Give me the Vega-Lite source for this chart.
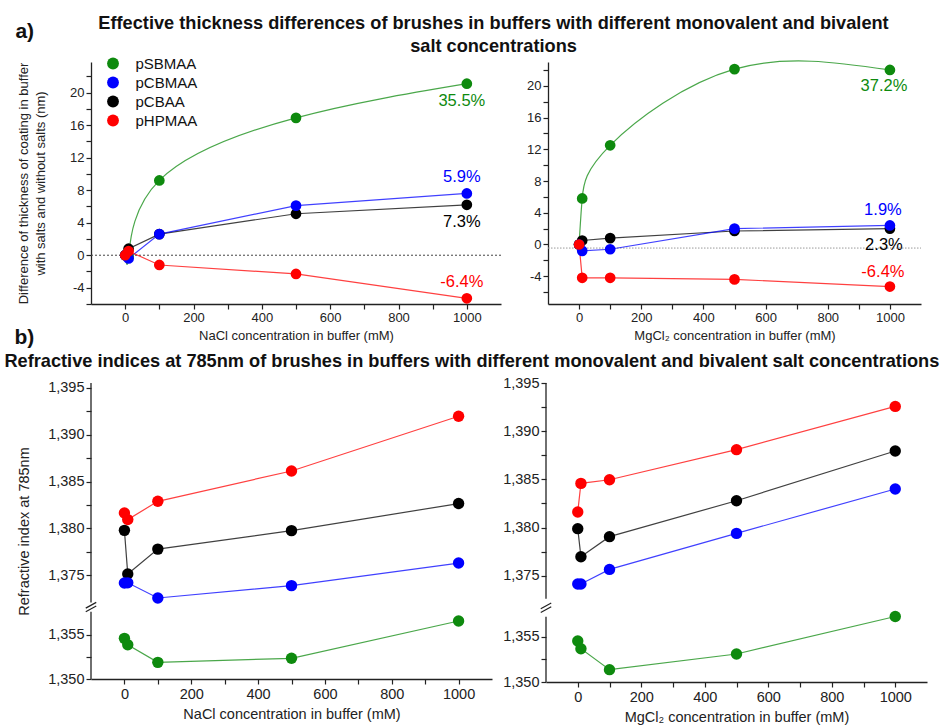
{
  "$schema": "https://vega.github.io/schema/vega-lite/v6.json",
  "background": "white",
  "padding": {"left": 4, "top": 13, "right": 4, "bottom": 4},
  "title": {"text": "a)", "anchor": "start", "fontSize": 21, "offset": -28, "dx": 11, "color": "#111"},
  "config": {
    "font": "Liberation Sans",
    "view": {"stroke": null},
    "title": {"font": "Liberation Sans", "fontWeight": "bold", "color": "#111"},
    "axis": {
      "grid": false,
      "domainColor": "#222",
      "domainWidth": 1.3,
      "tickColor": "#222",
      "tickWidth": 1.2,
      "tickSize": 5,
      "labelColor": "#222",
      "titleColor": "#222",
      "labelFont": "Liberation Sans",
      "titleFont": "Liberation Sans",
      "titleFontWeight": "normal",
      "labelOverlap": false,
      "labelFlush": false
    }
  },
  "datasets": {
    "thick": [
      {"salt": "NaCl", "series": "pSBMAA", "conc": 0, "dt": 0},
      {"salt": "NaCl", "series": "pSBMAA", "conc": 10, "dt": -0.2},
      {"salt": "NaCl", "series": "pSBMAA", "conc": 100, "dt": 9.2},
      {"salt": "NaCl", "series": "pSBMAA", "conc": 500, "dt": 16.9},
      {"salt": "NaCl", "series": "pSBMAA", "conc": 1000, "dt": 21.1, "pct": "35.5%"},
      {"salt": "NaCl", "series": "pCBAA", "conc": 0, "dt": 0},
      {"salt": "NaCl", "series": "pCBAA", "conc": 10, "dt": 0.8},
      {"salt": "NaCl", "series": "pCBAA", "conc": 100, "dt": 2.6},
      {"salt": "NaCl", "series": "pCBAA", "conc": 500, "dt": 5.1},
      {"salt": "NaCl", "series": "pCBAA", "conc": 1000, "dt": 6.2, "pct": "7.3%"},
      {"salt": "NaCl", "series": "pCBMAA", "conc": 0, "dt": 0},
      {"salt": "NaCl", "series": "pCBMAA", "conc": 10, "dt": -0.4},
      {"salt": "NaCl", "series": "pCBMAA", "conc": 100, "dt": 2.6},
      {"salt": "NaCl", "series": "pCBMAA", "conc": 500, "dt": 6.1},
      {"salt": "NaCl", "series": "pCBMAA", "conc": 1000, "dt": 7.6, "pct": "5.9%"},
      {"salt": "NaCl", "series": "pHPMAA", "conc": 0, "dt": 0},
      {"salt": "NaCl", "series": "pHPMAA", "conc": 10, "dt": 0.5},
      {"salt": "NaCl", "series": "pHPMAA", "conc": 100, "dt": -1.2},
      {"salt": "NaCl", "series": "pHPMAA", "conc": 500, "dt": -2.3},
      {"salt": "NaCl", "series": "pHPMAA", "conc": 1000, "dt": -5.3, "pct": "-6.4%"},
      {"salt": "MgCl2", "series": "pSBMAA", "conc": 0, "dt": 0},
      {"salt": "MgCl2", "series": "pSBMAA", "conc": 10, "dt": 5.8},
      {"salt": "MgCl2", "series": "pSBMAA", "conc": 100, "dt": 12.5},
      {"salt": "MgCl2", "series": "pSBMAA", "conc": 500, "dt": 22.1},
      {"salt": "MgCl2", "series": "pSBMAA", "conc": 1000, "dt": 22.0, "pct": "37.2%"},
      {"salt": "MgCl2", "series": "pCBAA", "conc": 0, "dt": 0},
      {"salt": "MgCl2", "series": "pCBAA", "conc": 10, "dt": 0.5},
      {"salt": "MgCl2", "series": "pCBAA", "conc": 100, "dt": 0.8},
      {"salt": "MgCl2", "series": "pCBAA", "conc": 500, "dt": 1.7},
      {"salt": "MgCl2", "series": "pCBAA", "conc": 1000, "dt": 2.0, "pct": "2.3%"},
      {"salt": "MgCl2", "series": "pCBMAA", "conc": 0, "dt": 0},
      {"salt": "MgCl2", "series": "pCBMAA", "conc": 10, "dt": -0.8},
      {"salt": "MgCl2", "series": "pCBMAA", "conc": 100, "dt": -0.6},
      {"salt": "MgCl2", "series": "pCBMAA", "conc": 500, "dt": 2.0},
      {"salt": "MgCl2", "series": "pCBMAA", "conc": 1000, "dt": 2.4, "pct": "1.9%"},
      {"salt": "MgCl2", "series": "pHPMAA", "conc": 0, "dt": 0},
      {"salt": "MgCl2", "series": "pHPMAA", "conc": 10, "dt": -4.2},
      {"salt": "MgCl2", "series": "pHPMAA", "conc": 100, "dt": -4.2},
      {"salt": "MgCl2", "series": "pHPMAA", "conc": 500, "dt": -4.4},
      {"salt": "MgCl2", "series": "pHPMAA", "conc": 1000, "dt": -5.3, "pct": "-6.4%"}
    ],
    "ri": [
      {"salt": "NaCl", "series": "pSBMAA", "conc": 0, "n": 1.35459},
      {"salt": "NaCl", "series": "pSBMAA", "conc": 10, "n": 1.35387},
      {"salt": "NaCl", "series": "pSBMAA", "conc": 100, "n": 1.35188},
      {"salt": "NaCl", "series": "pSBMAA", "conc": 500, "n": 1.35234},
      {"salt": "NaCl", "series": "pSBMAA", "conc": 1000, "n": 1.35655},
      {"salt": "NaCl", "series": "pCBAA", "conc": 0, "n": 1.3798},
      {"salt": "NaCl", "series": "pCBAA", "conc": 10, "n": 1.37514},
      {"salt": "NaCl", "series": "pCBAA", "conc": 100, "n": 1.3778},
      {"salt": "NaCl", "series": "pCBAA", "conc": 500, "n": 1.37977},
      {"salt": "NaCl", "series": "pCBAA", "conc": 1000, "n": 1.38266},
      {"salt": "NaCl", "series": "pCBMAA", "conc": 0, "n": 1.37418},
      {"salt": "NaCl", "series": "pCBMAA", "conc": 10, "n": 1.3742},
      {"salt": "NaCl", "series": "pCBMAA", "conc": 100, "n": 1.37258},
      {"salt": "NaCl", "series": "pCBMAA", "conc": 500, "n": 1.3739},
      {"salt": "NaCl", "series": "pCBMAA", "conc": 1000, "n": 1.37631},
      {"salt": "NaCl", "series": "pHPMAA", "conc": 0, "n": 1.38165},
      {"salt": "NaCl", "series": "pHPMAA", "conc": 10, "n": 1.38095},
      {"salt": "NaCl", "series": "pHPMAA", "conc": 100, "n": 1.3829},
      {"salt": "NaCl", "series": "pHPMAA", "conc": 500, "n": 1.38614},
      {"salt": "NaCl", "series": "pHPMAA", "conc": 1000, "n": 1.39198},
      {"salt": "MgCl2", "series": "pSBMAA", "conc": 0, "n": 1.35452},
      {"salt": "MgCl2", "series": "pSBMAA", "conc": 10, "n": 1.35367},
      {"salt": "MgCl2", "series": "pSBMAA", "conc": 100, "n": 1.35136},
      {"salt": "MgCl2", "series": "pSBMAA", "conc": 500, "n": 1.35309},
      {"salt": "MgCl2", "series": "pSBMAA", "conc": 1000, "n": 1.35739},
      {"salt": "MgCl2", "series": "pCBAA", "conc": 0, "n": 1.37988},
      {"salt": "MgCl2", "series": "pCBAA", "conc": 10, "n": 1.37697},
      {"salt": "MgCl2", "series": "pCBAA", "conc": 100, "n": 1.37905},
      {"salt": "MgCl2", "series": "pCBAA", "conc": 500, "n": 1.38278},
      {"salt": "MgCl2", "series": "pCBAA", "conc": 1000, "n": 1.38794},
      {"salt": "MgCl2", "series": "pCBMAA", "conc": 0, "n": 1.37414},
      {"salt": "MgCl2", "series": "pCBMAA", "conc": 10, "n": 1.37414},
      {"salt": "MgCl2", "series": "pCBMAA", "conc": 100, "n": 1.37565},
      {"salt": "MgCl2", "series": "pCBMAA", "conc": 500, "n": 1.37939},
      {"salt": "MgCl2", "series": "pCBMAA", "conc": 1000, "n": 1.384},
      {"salt": "MgCl2", "series": "pHPMAA", "conc": 0, "n": 1.38161},
      {"salt": "MgCl2", "series": "pHPMAA", "conc": 10, "n": 1.38458},
      {"salt": "MgCl2", "series": "pHPMAA", "conc": 100, "n": 1.38496},
      {"salt": "MgCl2", "series": "pHPMAA", "conc": 500, "n": 1.38808},
      {"salt": "MgCl2", "series": "pHPMAA", "conc": 1000, "n": 1.39257}
    ]
  },
  "resolve": {"scale": {"x": "independent", "y": "independent", "color": "independent", "stroke": "independent", "fill": "independent"}},
  "spacing": 3,
  "vconcat": [
    {
      "title": {"text": "b)", "orient": "bottom", "anchor": "start", "fontSize": 21, "offset": -15, "dx": -3, "color": "#111"},
      "resolve": {"scale": {"x": "independent", "y": "independent", "color": "independent", "stroke": "independent", "fill": "independent"}},
      "vconcat": [
        {
          "title": {
            "text": ["Effective thickness differences of brushes in buffers with different monovalent and bivalent", "salt concentrations\u00a0\u00a0\u00a0\u00a0\u00a0\u00a0\u00a0\u00a0\u00a0\u00a0\u00a0"],
            "fontSize": 18.2, "lineHeight": 23, "offset": 0, "anchor": "middle", "dx": 24
          },
          "spacing": 24,
          "resolve": {"scale": {"x": "independent", "y": "independent", "color": "independent", "stroke": "independent", "fill": "independent"}},
          "hconcat": [
            {
              "width": 410,
              "height": 242,
              "encoding": {
                "x": {"field": "conc", "type": "quantitative", "scale": {"domain": [-100, 1100], "nice": false, "zero": false},
                  "axis": {"title": "NaCl concentration in buffer (mM)", "values": [0, 100, 200, 300, 400, 500, 600, 700, 800, 900, 1000],
                    "labelExpr": "datum.value % 200 === 0 ? '' + datum.value : ''",
                    "labelFontSize": 13, "titleFontSize": 13, "labelPadding": 2, "titlePadding": 5}},
                "y": {"field": "dt", "type": "quantitative", "scale": {"domain": [-6, 23.77], "nice": false, "zero": false},
                  "axis": {"title": ["Difference of thickness of coating in buffer", "with salts and without salts (nm)"],
                    "values": [-6, -4, -2, 0, 2, 4, 6, 8, 10, 12, 14, 16, 18, 20, 22],
                    "labelExpr": "datum.value % 4 === 0 ? '' + datum.value : ''",
                    "labelFontSize": 13, "titleFontSize": 13, "titleLineHeight": 17, "labelPadding": 2, "titlePadding": 22}}
              },
              "layer": [
                {
                  "data": {"values": [{"conc": -100, "conc2": 1100, "dt": 0}]},
                  "mark": {"type": "rule", "strokeDash": [2, 2], "color": "#444", "strokeWidth": 1},
                  "encoding": {"x2": {"field": "conc2"}}
                },
                {
                  "data": {"name": "thick"},
                  "transform": [{"filter": "datum.salt === 'NaCl' && datum.series === 'pSBMAA'"}],
                  "mark": {"type": "line", "interpolate": "natural", "strokeWidth": 1.2, "opacity": 0.75},
                  "encoding": {
                    "stroke": {"field": "series", "type": "nominal", "scale": {"domain": ["pCBAA", "pCBMAA", "pHPMAA", "pSBMAA"], "range": ["#000000", "#0000ff", "#ff0000", "#0e8a0e"]}, "legend": null}
                  }
                },
                {
                  "data": {"name": "thick"},
                  "transform": [{"filter": "datum.salt === 'NaCl' && datum.series !== 'pSBMAA'"}],
                  "mark": {"type": "line", "strokeWidth": 1.2, "opacity": 0.75},
                  "encoding": {
                    "stroke": {"field": "series", "type": "nominal", "scale": {"domain": ["pCBAA", "pCBMAA", "pHPMAA", "pSBMAA"], "range": ["#000000", "#0000ff", "#ff0000", "#0e8a0e"]}, "legend": null}
                  }
                },
                {
                  "data": {"name": "thick"},
                  "transform": [{"filter": "datum.salt === 'NaCl'"}],
                  "mark": {"type": "point", "filled": true, "size": 115, "opacity": 1},
                  "encoding": {
                    "color": {"field": "series", "type": "nominal", "scale": {"domain": ["pSBMAA", "pCBMAA", "pCBAA", "pHPMAA"], "range": ["#0e8a0e", "#0000ff", "#000000", "#ff0000"]},
                      "legend": {"title": null, "orient": "none", "legendX": 14.5, "legendY": -6, "symbolType": "circle", "symbolSize": 140,
                        "symbolStrokeWidth": 0, "labelFontSize": 15, "labelColor": "#111", "rowPadding": 3, "labelOffset": 15, "padding": 0}}
                  }
                },
                {
                  "data": {"name": "thick"},
                  "transform": [{"filter": "datum.salt === 'NaCl' && datum.conc === 1000 && (datum.series === 'pCBMAA' || datum.series === 'pHPMAA')"}],
                  "mark": {"type": "text", "fontSize": 16.5, "dy": -16, "dx": -5, "baseline": "middle", "align": "center"},
                  "encoding": {
                    "text": {"field": "pct"},
                    "fill": {"field": "series", "type": "nominal", "scale": {"domain": ["pCBAA", "pCBMAA", "pHPMAA", "pSBMAA"], "range": ["#000000", "#0000ff", "#ff0000", "#0e8a0e"]}, "legend": null}
                  }
                },
                {
                  "data": {"name": "thick"},
                  "transform": [{"filter": "datum.salt === 'NaCl' && datum.conc === 1000 && (datum.series === 'pSBMAA' || datum.series === 'pCBAA')"}],
                  "mark": {"type": "text", "fontSize": 16.5, "dy": 17, "dx": -5, "baseline": "middle", "align": "center"},
                  "encoding": {
                    "text": {"field": "pct"},
                    "fill": {"field": "series", "type": "nominal", "scale": {"domain": ["pCBAA", "pCBMAA", "pHPMAA", "pSBMAA"], "range": ["#000000", "#0000ff", "#ff0000", "#0e8a0e"]}, "legend": null}
                  }
                }
              ]
            },
            {
              "width": 373,
              "height": 242,
              "encoding": {
                "x": {"field": "conc", "type": "quantitative", "scale": {"domain": [-100, 1100], "nice": false, "zero": false},
                  "axis": {"title": "MgCl₂ concentration in buffer (mM)", "values": [0, 100, 200, 300, 400, 500, 600, 700, 800, 900, 1000],
                    "labelExpr": "datum.value % 200 === 0 ? '' + datum.value : ''",
                    "labelFontSize": 13, "titleFontSize": 13, "labelPadding": 2, "titlePadding": 5}},
                "y": {"field": "dt", "type": "quantitative", "scale": {"domain": [-7.5, 23], "nice": false, "zero": false},
                  "axis": {"title": null,
                    "values": [-6, -4, -2, 0, 2, 4, 6, 8, 10, 12, 14, 16, 18, 20, 22],
                    "labelExpr": "datum.value % 4 === 0 ? '' + datum.value : ''",
                    "labelFontSize": 13, "labelPadding": 2}}
              },
              "layer": [
                {
                  "data": {"values": [{"conc": -100, "conc2": 1100, "dt": -0.45}]},
                  "mark": {"type": "rule", "strokeDash": [1.5, 1.5], "color": "#999", "strokeWidth": 1},
                  "encoding": {"x2": {"field": "conc2"}}
                },
                {
                  "data": {"name": "thick"},
                  "transform": [{"filter": "datum.salt === 'MgCl2' && datum.series === 'pSBMAA'"}],
                  "mark": {"type": "line", "interpolate": "natural", "strokeWidth": 1.2, "opacity": 0.75},
                  "encoding": {
                    "stroke": {"field": "series", "type": "nominal", "scale": {"domain": ["pCBAA", "pCBMAA", "pHPMAA", "pSBMAA"], "range": ["#000000", "#0000ff", "#ff0000", "#0e8a0e"]}, "legend": null}
                  }
                },
                {
                  "data": {"name": "thick"},
                  "transform": [{"filter": "datum.salt === 'MgCl2' && datum.series !== 'pSBMAA'"}],
                  "mark": {"type": "line", "strokeWidth": 1.2, "opacity": 0.75},
                  "encoding": {
                    "stroke": {"field": "series", "type": "nominal", "scale": {"domain": ["pCBAA", "pCBMAA", "pHPMAA", "pSBMAA"], "range": ["#000000", "#0000ff", "#ff0000", "#0e8a0e"]}, "legend": null}
                  }
                },
                {
                  "data": {"name": "thick"},
                  "transform": [{"filter": "datum.salt === 'MgCl2'"}],
                  "mark": {"type": "point", "filled": true, "size": 115, "opacity": 1},
                  "encoding": {
                    "color": {"field": "series", "type": "nominal", "scale": {"domain": ["pSBMAA", "pCBMAA", "pCBAA", "pHPMAA"], "range": ["#0e8a0e", "#0000ff", "#000000", "#ff0000"]}, "legend": null}
                  }
                },
                {
                  "data": {"name": "thick"},
                  "transform": [{"filter": "datum.salt === 'MgCl2' && datum.conc === 1000 && (datum.series === 'pCBMAA' || datum.series === 'pHPMAA')"}],
                  "mark": {"type": "text", "fontSize": 16.5, "dy": -15, "dx": -7, "baseline": "middle", "align": "center"},
                  "encoding": {
                    "text": {"field": "pct"},
                    "fill": {"field": "series", "type": "nominal", "scale": {"domain": ["pCBAA", "pCBMAA", "pHPMAA", "pSBMAA"], "range": ["#000000", "#0000ff", "#ff0000", "#0e8a0e"]}, "legend": null}
                  }
                },
                {
                  "data": {"name": "thick"},
                  "transform": [{"filter": "datum.salt === 'MgCl2' && datum.conc === 1000 && (datum.series === 'pSBMAA' || datum.series === 'pCBAA')"}],
                  "mark": {"type": "text", "fontSize": 16.5, "dy": 16, "dx": -6, "baseline": "middle", "align": "center"},
                  "encoding": {
                    "text": {"field": "pct"},
                    "fill": {"field": "series", "type": "nominal", "scale": {"domain": ["pCBAA", "pCBMAA", "pHPMAA", "pSBMAA"], "range": ["#000000", "#0000ff", "#ff0000", "#0e8a0e"]}, "legend": null}
                  }
                }
              ]
            }
          ]
        }
      ]
    },
    {
      "title": {
        "text": "Refractive indices at 785nm of brushes in buffers with different monovalent and bivalent salt concentrations",
        "fontSize": 18.2, "offset": 4, "anchor": "middle"
      },
      "spacing": 10,
      "resolve": {"scale": {"x": "independent", "y": "independent", "color": "independent", "stroke": "independent", "fill": "independent"}},
      "hconcat": [
        {
          "width": 401,
          "height": 296,
          "encoding": {
            "x": {"field": "conc", "type": "quantitative", "scale": {"domain": [-100, 1100], "nice": false, "zero": false},
              "axis": {"title": "NaCl concentration in buffer (mM)", "values": [0, 100, 200, 300, 400, 500, 600, 700, 800, 900, 1000],
                "labelExpr": "datum.value % 200 === 0 ? '' + datum.value : ''",
                "labelFontSize": 14.5, "titleFontSize": 14.5, "labelPadding": 3, "titlePadding": 7}},
            "y": {"field": "n", "type": "quantitative", "scale": {"domain": [1.35, 1.3576, 1.3721, 1.39553], "range": [296, 228.7, 219.5, 0], "nice": false, "zero": false},
              "axis": {"title": "Refractive index at 785nm", "domain": false,
                "values": [1.35, 1.3525, 1.355, 1.375, 1.3775, 1.38, 1.3825, 1.385, 1.3875, 1.39, 1.3925, 1.395],
                "labelExpr": "round(datum.value * 2000) % 10 === 0 ? replace(format(datum.value, '.3f'), '.', ',') : ''",
                "labelFontSize": 14.5, "titleFontSize": 14.5, "labelPadding": 2, "titlePadding": 16}}
          },
          "layer": [
            {
              "data": {"values": [{"conc": -100, "n": 1.35, "n2": 1.3576}, {"conc": -100, "n": 1.3721, "n2": 1.39553}]},
              "mark": {"type": "rule", "color": "#222", "strokeWidth": 1.3},
              "encoding": {"y2": {"field": "n2"}}
            },
            {
              "data": {"values": [{"conc": -100, "n": 1.36485}]},
              "mark": {"type": "point", "shape": "M-1,0.2L1,-0.9M-1,0.9L1,-0.2", "filled": false, "size": 110, "stroke": "#222", "strokeWidth": 1.2, "opacity": 1}
            },
            {
              "data": {"name": "ri"},
              "transform": [{"filter": "datum.salt === 'NaCl'"}],
              "mark": {"type": "line", "strokeWidth": 1.2, "opacity": 0.75},
              "encoding": {
                "stroke": {"field": "series", "type": "nominal", "scale": {"domain": ["pCBAA", "pCBMAA", "pHPMAA", "pSBMAA"], "range": ["#000000", "#0000ff", "#ff0000", "#0e8a0e"]}, "legend": null}
              }
            },
            {
              "data": {"name": "ri"},
              "transform": [{"filter": "datum.salt === 'NaCl'"}],
              "mark": {"type": "point", "filled": true, "size": 130, "opacity": 1},
              "encoding": {
                "color": {"field": "series", "type": "nominal", "scale": {"domain": ["pSBMAA", "pCBMAA", "pCBAA", "pHPMAA"], "range": ["#0e8a0e", "#0000ff", "#000000", "#ff0000"]}, "legend": null}
              }
            }
          ]
        },
        {
          "width": 381,
          "height": 299,
          "encoding": {
            "x": {"field": "conc", "type": "quantitative", "scale": {"domain": [-100, 1100], "nice": false, "zero": false},
              "axis": {"title": "MgCl₂ concentration in buffer (mM)", "values": [0, 100, 200, 300, 400, 500, 600, 700, 800, 900, 1000],
                "labelExpr": "datum.value % 200 === 0 ? '' + datum.value : ''",
                "labelFontSize": 14.5, "titleFontSize": 14.5, "labelPadding": 3, "titlePadding": 7}},
            "y": {"field": "n", "type": "quantitative", "scale": {"domain": [1.35, 1.3572, 1.3726, 1.395], "range": [299, 233.7, 215.8, 0], "nice": false, "zero": false},
              "axis": {"title": null, "domain": false,
                "values": [1.35, 1.3525, 1.355, 1.375, 1.3775, 1.38, 1.3825, 1.385, 1.3875, 1.39, 1.3925, 1.395],
                "labelExpr": "round(datum.value * 2000) % 10 === 0 ? replace(format(datum.value, '.3f'), '.', ',') : ''",
                "labelFontSize": 14.5, "labelPadding": 2}}
          },
          "layer": [
            {
              "data": {"values": [{"conc": -100, "n": 1.35, "n2": 1.3572}, {"conc": -100, "n": 1.3726, "n2": 1.395}]},
              "mark": {"type": "rule", "color": "#222", "strokeWidth": 1.3},
              "encoding": {"y2": {"field": "n2"}}
            },
            {
              "data": {"values": [{"conc": -100, "n": 1.3649}]},
              "mark": {"type": "point", "shape": "M-1,0.2L1,-0.9M-1,0.9L1,-0.2", "filled": false, "size": 110, "stroke": "#222", "strokeWidth": 1.2, "opacity": 1}
            },
            {
              "data": {"name": "ri"},
              "transform": [{"filter": "datum.salt === 'MgCl2'"}],
              "mark": {"type": "line", "strokeWidth": 1.2, "opacity": 0.75},
              "encoding": {
                "stroke": {"field": "series", "type": "nominal", "scale": {"domain": ["pCBAA", "pCBMAA", "pHPMAA", "pSBMAA"], "range": ["#000000", "#0000ff", "#ff0000", "#0e8a0e"]}, "legend": null}
              }
            },
            {
              "data": {"name": "ri"},
              "transform": [{"filter": "datum.salt === 'MgCl2'"}],
              "mark": {"type": "point", "filled": true, "size": 130, "opacity": 1},
              "encoding": {
                "color": {"field": "series", "type": "nominal", "scale": {"domain": ["pSBMAA", "pCBMAA", "pCBAA", "pHPMAA"], "range": ["#0e8a0e", "#0000ff", "#000000", "#ff0000"]}, "legend": null}
              }
            }
          ]
        }
      ]
    }
  ]
}
